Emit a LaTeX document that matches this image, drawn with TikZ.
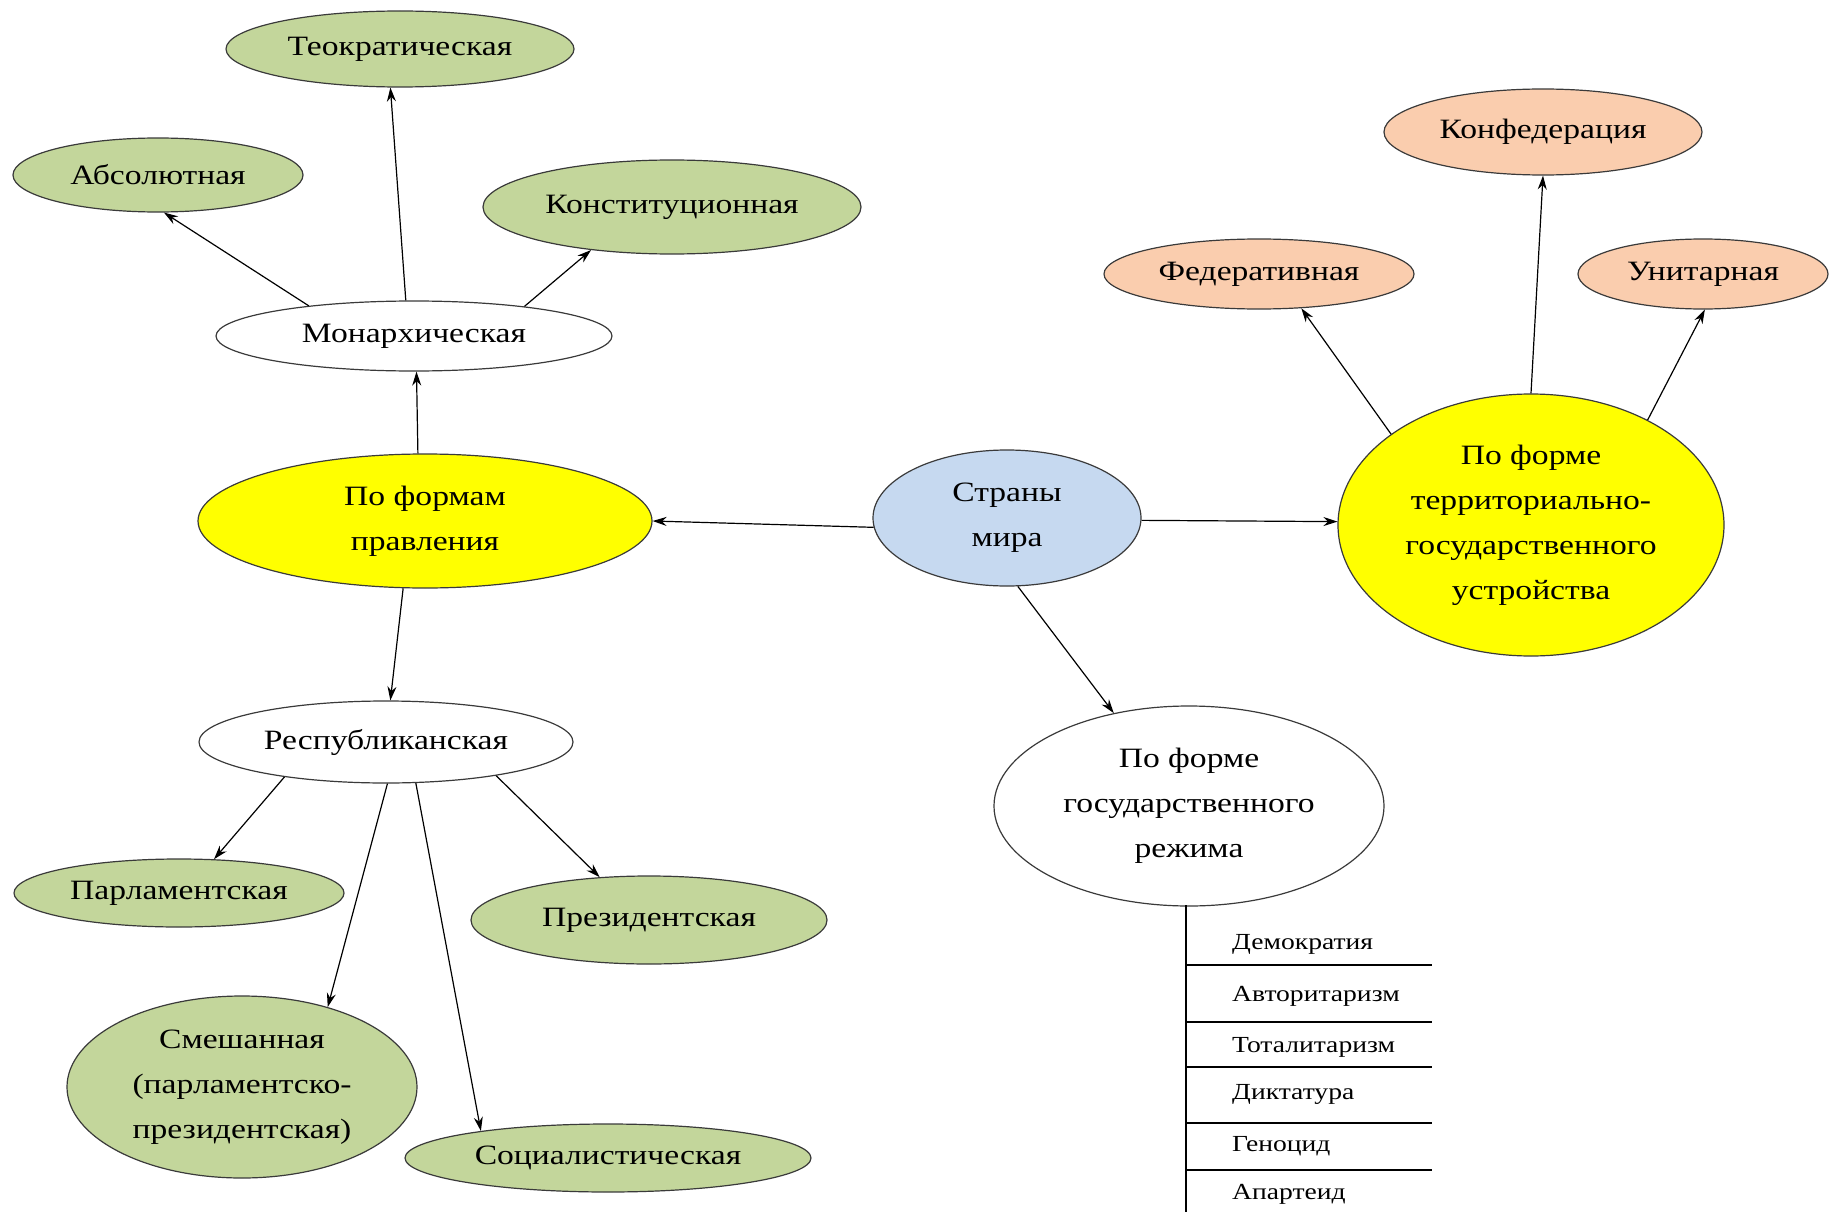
\documentclass[tikz,border=0pt]{standalone}
\usepackage{fontspec}
\setmainfont[FakeStretch=1.2]{Liberation Serif}
\usetikzlibrary{shapes.geometric,arrows.meta}
\definecolor{grn}{HTML}{C3D69B}
\definecolor{pch}{HTML}{FACDAE}
\definecolor{blu}{HTML}{C6D9F0}
\definecolor{ylw}{HTML}{FFFF00}
\definecolor{edge}{HTML}{3A3A3A}
\tikzset{
  ell/.style n args={2}{ellipse, draw=edge, line width=1.2pt, inner sep=0pt,
     minimum width=#1, minimum height=#2, align=center,
     font=\fontsize{28}{45}\selectfont},
  grnell/.style={fill=grn},
  pchell/.style={fill=pch},
  conn/.style={draw=black, line width=1.2pt, -{Stealth[length=14pt,width=9pt]}},
  listtxt/.style={anchor=base west, inner sep=0pt, font=\fontsize{23}{27}\selectfont},
  listline/.style={draw=black, line width=1.4pt}
}
\begin{document}
\begin{tikzpicture}[x=1pt,y=1pt]
\useasboundingbox (0,0) rectangle (1832,-1212);
% nodes
\node[ell={348}{76}, grnell] (teo) at (400,-49) {Теократическая};
\node[ell={290}{74}, grnell] (abs) at (158,-175) {Абсолютная};
\node[ell={378}{94}, grnell] (kon) at (672,-207) {Конституционная};
\node[ell={396}{70}, fill=white] (mon) at (414,-336) {Монархическая};
\node[ell={454}{134}, fill=ylw] (pfp) at (425,-521) {По формам\\правления};
\node[ell={268}{136}, fill=blu] (str) at (1007,-518) {Страны\\мира};
\node[ell={386}{262}, fill=ylw] (tgu) at (1531,-525) {По форме\\территориально-\\государственного\\устройства};
\node[ell={310}{70}, pchell] (fed) at (1259,-274) {Федеративная};
\node[ell={318}{86}, pchell] (kfd) at (1543,-132) {Конфедерация};
\node[ell={250}{70}, pchell] (uni) at (1703,-274) {Унитарная};
\node[ell={374}{82}, fill=white] (res) at (386,-742) {Республиканская};
\node[ell={330}{68}, grnell] (par) at (179,-893) {Парламентская};
\node[ell={356}{88}, grnell] (pre) at (649,-920) {Президентская};
\node[ell={350}{182}, grnell] (sme) at (242,-1087) {Смешанная\\(парламентско-\\президентская)};
\node[ell={406}{68}, grnell] (soc) at (608,-1158) {Социалистическая};
\node[ell={390}{200}, fill=white] (rej) at (1189,-806) {По форме\\государственного\\режима};
% connectors
\draw[conn] (mon.164.3) -- (abs.-81);
\draw[conn] (mon.103.4) -- (teo.256.6);
\draw[conn] (mon.15.4) -- (kon.208.3);
\draw[conn] (pfp.96.4) -- (mon.274.3);
\draw[conn] (pfp.252) -- (res.84.8);
\draw[conn] (str.184.3) -- (pfp.0);
\draw[conn] (str.-1.3) -- (tgu.179.4);
\draw[conn] (str.-81.3) -- (rej.129.7);
\draw[conn] (res.199.8) -- (par.44.3);
\draw[conn] (res.272.7) -- (sme.43.6);
\draw[conn] (res.306.7) -- (soc.168.4);
\draw[conn] (res.343.2) -- (pre.139.6);
\draw[conn] (tgu.147.7) -- (fed.321.1);
\draw[conn] (tgu.90.9) -- (kfd.270);
\draw[conn] (tgu.42) -- (uni.273);
% regime list
\coordinate (lt) at (1186,-905);
\coordinate (lb) at (1186,-1212);
\draw[listline] (lt) -- (lb);
\foreach \yy in {965,1022,1067,1123,1170}{
  \draw[listline] (1186,-\yy) -- (1432,-\yy);
}
\node[listtxt] (l1) at (1232,-949) {Демократия};
\node[listtxt] (l2) at (1232,-1001) {Авторитаризм};
\node[listtxt] (l3) at (1232,-1052) {Тоталитаризм};
\node[listtxt] (l4) at (1232,-1099) {Диктатура};
\node[listtxt] (l5) at (1232,-1151) {Геноцид};
\node[listtxt] (l6) at (1232,-1199) {Апартеид};
\end{tikzpicture}
\end{document}
